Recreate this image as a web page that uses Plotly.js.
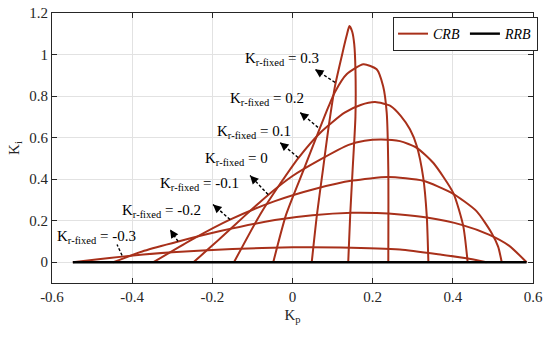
<!DOCTYPE html>
<html>
<head>
<meta charset="utf-8">
<script src="https://cdn.plot.ly/plotly-3.0.1.min.js"></script>
<style>
html,body{margin:0;padding:0;background:#fff;}
#chart{width:550px;height:337px;}
</style>
</head>
<body>
<div id="chart"></div>
<script>
// ---- data ----
const krValues = [-0.3, -0.2, -0.1, 0, 0.1, 0.2, 0.3];
const krLabels = ['-0.3', '-0.2', '-0.1', '0', '0.1', '0.2', '0.3'];

const kpKrM03 = [-0.548, -0.49, -0.425, -0.3, -0.15, 0.0, 0.12, 0.268, 0.372, 0.434, 0.484];
const kiKrM03 = [0, 0.013, 0.027, 0.048, 0.064, 0.072, 0.071, 0.061, 0.036, 0.019, 0];

const kpKrM02 = [-0.447, -0.37, -0.285, -0.18, -0.044, 0.05, 0.148, 0.21, 0.268, 0.335, 0.422, 0.49, 0.54, 0.584];
const kiKrM02 = [0, 0.055, 0.10, 0.150, 0.203, 0.226, 0.238, 0.237, 0.230, 0.215, 0.180, 0.133, 0.08, 0];

const kpKrM01 = [-0.347, -0.25, -0.156, -0.044, 0.06, 0.15, 0.238, 0.326, 0.397, 0.459, 0.497, 0.513, 0.522];
const kiKrM01 = [0, 0.11, 0.205, 0.294, 0.355, 0.393, 0.41, 0.392, 0.334, 0.246, 0.14, 0.075, 0];

const kpKr00 = [-0.247, -0.18, -0.12, -0.06, 0.0, 0.07, 0.14, 0.18, 0.222, 0.268, 0.31, 0.351, 0.401, 0.426, 0.437];
const kiKr00 = [0, 0.115, 0.222, 0.325, 0.415, 0.495, 0.565, 0.585, 0.591, 0.583, 0.551, 0.479, 0.334, 0.174, 0];

const kpKr01 = [-0.146, -0.081, -0.03, 0.015, 0.07, 0.13, 0.17, 0.206, 0.245, 0.27, 0.293, 0.31, 0.326, 0.335, 0.339];
const kiKr01 = [0, 0.229, 0.38, 0.503, 0.625, 0.72, 0.757, 0.771, 0.752, 0.705, 0.64, 0.56, 0.41, 0.222, 0];

const kpKr02 = [-0.048, -0.016, 0.028, 0.064, 0.09, 0.106, 0.135, 0.177, 0.21, 0.226, 0.235, 0.239, 0.239];
const kiKr02 = [0, 0.229, 0.446, 0.624, 0.75, 0.82, 0.905, 0.953, 0.929, 0.848, 0.72, 0.446, 0];

const kpKr03 = [0.048, 0.061, 0.076, 0.09, 0.106, 0.125, 0.135, 0.142, 0.149, 0.154, 0.157, 0.157, 0.150, 0.144, 0.139];
const kiKr03 = [0, 0.229, 0.446, 0.65, 0.848, 1.01, 1.09, 1.137, 1.11, 1.05, 0.93, 0.7, 0.446, 0.229, 0];

const rrbKp = [-0.548, 0.584];
const rrbKi = [0, 0];

const xTicks = [-0.6, -0.4, -0.2, 0, 0.2, 0.4, 0.6];
const xTickText = ['-0.6', '-0.4', '-0.2', '0', '0.2', '0.4', '0.6'];
const yTicks = [0, 0.2, 0.4, 0.6, 0.8, 1, 1.2];
const yTickText = ['0', '0.2', '0.4', '0.6', '0.8', '1', '1.2'];

// label anchor (left, middle) and arrow head / tail, per Kr value (in axis units)
const labelX = [-0.5923, -0.4302, -0.3354, -0.2232, -0.1933, -0.1608, -0.1234];
const labelY = [0.1238, 0.2443, 0.3745, 0.4949, 0.6251, 0.7841, 0.9769];
const headX = [-0.4377, -0.3055, -0.1983, -0.1060, -0.0312, 0.0187, 0.0561];
const headY = [0.0853, 0.1576, 0.2781, 0.4178, 0.5769, 0.7215, 0.9287];
const tailX = [-0.4252, -0.2855, -0.1559, -0.0611, 0.0137, 0.0636, 0.1060];
const tailY = [0.0323, 0.1003, 0.2058, 0.3263, 0.5046, 0.6492, 0.8660];

// ---- build figure ----
const CRB_COLOR = '#a8301a';
const FONT = '"Liberation Serif", "Times New Roman", Times, serif';
const curves = [
  [kpKrM03, kiKrM03], [kpKrM02, kiKrM02], [kpKrM01, kiKrM01], [kpKr00, kiKr00],
  [kpKr01, kiKr01], [kpKr02, kiKr02], [kpKr03, kiKr03]
];

const traces = curves.map((c, i) => ({
  x: c[0], y: c[1], type: 'scatter', mode: 'lines',
  line: {color: CRB_COLOR, width: 2, shape: 'spline', smoothing: 0.6},
  name: '<i>CRB</i>', legendgroup: 'crb', showlegend: i === 0,
  hoverinfo: 'skip'
}));
traces.push({
  x: rrbKp, y: rrbKi, type: 'scatter', mode: 'lines',
  line: {color: '#000000', width: 2.4},
  name: '<i>RRB</i>', showlegend: true, hoverinfo: 'skip'
});

const annotations = [];
const shapes = [];
krValues.forEach((kr, i) => {
  annotations.push({
    x: labelX[i], y: labelY[i], xref: 'x', yref: 'y',
    xanchor: 'left', yanchor: 'middle', showarrow: false,
    text: 'K<sub>r-fixed</sub> = ' + krLabels[i],
    font: {family: FONT, size: 15, color: '#000'}
  });
  shapes.push({
    type: 'line', xref: 'x', yref: 'y',
    x0: tailX[i], y0: tailY[i], x1: headX[i], y1: headY[i],
    line: {color: '#000', width: 1.4, dash: '3px,2px'}
  });
  annotations.push({
    x: headX[i], y: headY[i], xref: 'x', yref: 'y',
    ax: headX[i] + 0.3 * (tailX[i] - headX[i]),
    ay: headY[i] + 0.3 * (tailY[i] - headY[i]),
    axref: 'x', ayref: 'y', text: '', showarrow: true,
    arrowhead: 2, arrowsize: 1.3, arrowwidth: 1.3, arrowcolor: '#000'
  });
});

const axisCommon = {
  showline: true, mirror: 'allticks', linecolor: '#262626', linewidth: 1,
  ticks: 'inside', ticklen: 5, tickcolor: '#262626', tickwidth: 1,
  showgrid: true, gridcolor: '#e2e2e2', gridwidth: 1, zeroline: false,
  tickfont: {family: FONT, size: 15, color: '#262626'}
};

const layout = {
  width: 550, height: 337,
  margin: {l: 52, r: 17, t: 13, b: 54},
  paper_bgcolor: '#fff', plot_bgcolor: '#fff',
  font: {family: FONT, size: 15, color: '#000'},
  xaxis: Object.assign({}, axisCommon, {
    range: [-0.6, 0.6], tickvals: xTicks, ticktext: xTickText,
    title: {text: 'K<sub>p</sub>', font: {family: FONT, size: 15, color: '#262626'}, standoff: 5}
  }),
  yaxis: Object.assign({}, axisCommon, {
    range: [-0.1, 1.2], tickvals: yTicks, ticktext: yTickText,
    title: {text: 'K<sub>i</sub>', font: {family: FONT, size: 15, color: '#262626'}, standoff: 6}
  }),
  showlegend: true,
  legend: {
    x: 0.709, y: 0.985, xanchor: 'left', yanchor: 'top',
    orientation: 'h', bgcolor: '#fff', bordercolor: '#262626', borderwidth: 1,
    font: {family: FONT, size: 14, color: '#000'},
    itemwidth: 30, tracegroupgap: 0
  },
  annotations: annotations,
  shapes: shapes
};

Plotly.newPlot('chart', traces, layout, {staticPlot: true, displayModeBar: false});
</script>
</body>
</html>
